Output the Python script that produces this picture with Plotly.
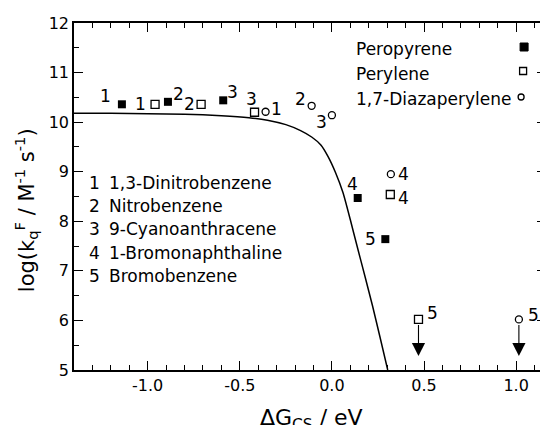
import plotly.graph_objects as go

# ---------------- data ----------------
compound_numbers = ["1", "2", "3", "4", "5"]
compound_names = ["1,3-Dinitrobenzene", "Nitrobenzene", "9-Cyanoanthracene",
                  "1-Bromonaphthaline", "Bromobenzene"]

peropyrene_x = [-1.14, -0.89, -0.59, 0.14, 0.29]
peropyrene_y = [10.36, 10.41, 10.44, 8.47, 7.64]

perylene_x = [-0.96, -0.71, -0.42, 0.317, 0.47]
perylene_y = [10.36, 10.36, 10.20, 8.54, 6.02]

diaza_x = [-0.36, -0.11, 0.00, 0.32, 1.015]
diaza_y = [10.21, 10.33, 10.14, 8.95, 6.02]

# upper-limit values (index 4 of perylene and diazaperylene) -> arrow tip
limit_tip_y = 5.28

# theoretical curve
curve_x = [-1.40, -1.20, -1.00, -0.80, -0.60, -0.45, -0.35, -0.25, -0.17,
           -0.11, -0.06, -0.02, 0.02, 0.06, 0.10, 0.14, 0.18, 0.22, 0.26, 0.303]
curve_y = [10.18, 10.18, 10.17, 10.16, 10.13, 10.09, 10.04, 9.95, 9.83,
           9.70, 9.54, 9.30, 8.98, 8.58, 8.03, 7.45, 6.88, 6.30, 5.68, 5.00]

x_tickvals = [-1.0, -0.5, 0.0, 0.5, 1.0]
x_ticktext = ["-1.0", "-0.5", "0.0", "0.5", "1.0"]
y_tickvals = [5, 6, 7, 8, 9, 10, 11, 12]

series_names = ["Peropyrene", "Perylene", "1,7-Diazaperylene"]

# ---------------- style / layout ----------------
OFF = 8                      # page body margin of the browser
W, H = 548 - OFF, 425 - OFF  # figure fits the window exactly
ML, MR, MT, MB = 66, 0, 15, 55
PW, PH = W - ML - MR, H - MT - MB
FONT = "DejaVu Sans"


def px(xs):
    """screen x pixel -> paper x"""
    return (xs - OFF - ML) / PW


def py(ys):
    """screen y pixel -> paper y"""
    return (H - MB - (ys - OFF)) / PH


# label offsets (pixels, dx right, dy down)
perop_off = [(-16, -8), (11, -8), (9, -8), (-5, -14), (-15, 0)]
peryl_off = [(-15, 0), (-12, 0), (-3, -13), (13, 3), (14, -6)]
diaza_off = [(11, -3), (-11, -7), (-10, 7), (13, 0), (15, -4)]

fig = go.Figure()

fig.add_trace(go.Scatter(x=curve_x, y=curve_y, mode="lines",
                         line=dict(color="black", width=1.5, shape="spline", smoothing=0.6),
                         hoverinfo="skip", showlegend=False))

fig.add_trace(go.Scatter(x=peropyrene_x, y=peropyrene_y, mode="markers", name=series_names[0],
                         marker=dict(symbol="square", size=8, color="black"), showlegend=False))
fig.add_trace(go.Scatter(x=perylene_x, y=perylene_y, mode="markers", name=series_names[1],
                         marker=dict(symbol="square-open", size=8, color="black",
                                     line=dict(width=1.3)), showlegend=False))
fig.add_trace(go.Scatter(x=diaza_x, y=diaza_y, mode="markers", name=series_names[2],
                         marker=dict(symbol="circle-open", size=7, color="black",
                                     line=dict(width=1.3)), showlegend=False))

annotations = []
for xs, ys, offs in [(peropyrene_x, peropyrene_y, perop_off),
                     (perylene_x, perylene_y, peryl_off),
                     (diaza_x, diaza_y, diaza_off)]:
    for xv, yv, lab, (dx, dy) in zip(xs, ys, compound_numbers, offs):
        annotations.append(dict(x=xv, y=yv, xref="x", yref="y", text=lab, showarrow=False,
                                xshift=dx, yshift=-dy, font=dict(family=FONT, size=17, color="black")))

# upper limit arrows
for xs, ys in [(perylene_x, perylene_y), (diaza_x, diaza_y)]:
    annotations.append(dict(x=xs[4], y=limit_tip_y, xref="x", yref="y",
                            ax=xs[4], ay=ys[4], axref="x", ayref="y", text="",
                            showarrow=True, arrowhead=2, arrowsize=2.4, arrowwidth=1.1,
                            arrowcolor="black", startstandoff=4))

# compound list
list_rows = [182.7, 205.7, 229.0, 252.7, 276.0]
for num, name, yp in zip(compound_numbers, compound_names, list_rows):
    annotations.append(dict(x=px(87), y=py(yp), xref="paper", yref="paper", text=num,
                            showarrow=False, xanchor="left", yanchor="middle",
                            font=dict(family=FONT, size=17, color="black")))
    annotations.append(dict(x=px(107), y=py(yp), xref="paper", yref="paper", text=name,
                            showarrow=False, xanchor="left", yanchor="middle",
                            font=dict(family=FONT, size=17, color="black")))

# series key (top right)
key_rows = [49, 74, 99]
for name, yp in zip(series_names, key_rows):
    annotations.append(dict(x=px(355), y=py(yp), xref="paper", yref="paper", text=name,
                            showarrow=False, xanchor="left", yanchor="middle",
                            font=dict(family=FONT, size=17, color="black")))

shapes = []
key_mark_rows = [47, 71, 97]
shapes.append(dict(type="rect", xref="paper", yref="paper", xsizemode="pixel", ysizemode="pixel",
                   xanchor=px(526), yanchor=py(key_mark_rows[0]), x0=-4, x1=4, y0=-4, y1=4,
                   fillcolor="black", line=dict(color="black", width=1)))
shapes.append(dict(type="rect", xref="paper", yref="paper", xsizemode="pixel", ysizemode="pixel",
                   xanchor=px(525), yanchor=py(key_mark_rows[1]), x0=-3.5, x1=3.5, y0=-3.5, y1=3.5,
                   fillcolor="white", line=dict(color="black", width=1.3)))
shapes.append(dict(type="circle", xref="paper", yref="paper", xsizemode="pixel", ysizemode="pixel",
                   xanchor=px(523), yanchor=py(key_mark_rows[2]), x0=-3, x1=3, y0=-3, y1=3,
                   fillcolor="white", line=dict(color="black", width=1.3)))

# axis titles
annotations.append(dict(x=px(313), y=py(403), xref="paper", yref="paper",
                        text="ΔG<sub>CS</sub> / eV", showarrow=False,
                        xanchor="center", yanchor="top",
                        font=dict(family=FONT, size=22, color="black")))
annotations.append(dict(x=px(26), y=py(210), xref="paper", yref="paper",
                        text="log(k<sub>q</sub><sup>F</sup> / M<sup>-1</sup> s<sup>-1</sup>)",
                        showarrow=False, textangle=-90, xanchor="center", yanchor="middle",
                        font=dict(family=FONT, size=21, color="black")))

axis_common = dict(showline=True, linecolor="black", linewidth=1.5, mirror="allticks",
                   ticks="inside", ticklen=9, tickwidth=1.3, tickcolor="black",
                   showgrid=False, zeroline=False,
                   tickfont=dict(family=FONT, size=16, color="black"))

fig.update_layout(
    width=W, height=H,
    margin=dict(l=ML, r=MR, t=MT, b=MB),
    paper_bgcolor="white", plot_bgcolor="white",
    showlegend=False,
    annotations=annotations,
    shapes=shapes,
    xaxis=dict(range=[-1.40, -1.40 + PW / 185.0], tickvals=x_tickvals, ticktext=x_ticktext,
               minor=dict(dtick=0.1, ticks="inside", ticklen=5, tickwidth=1.1, tickcolor="black"),
               **axis_common),
    yaxis=dict(range=[5, 12], tickvals=y_tickvals,
               minor=dict(dtick=0.5, ticks="inside", ticklen=5, tickwidth=1.1, tickcolor="black"),
               **axis_common),
)

fig.write_html("out.html")
